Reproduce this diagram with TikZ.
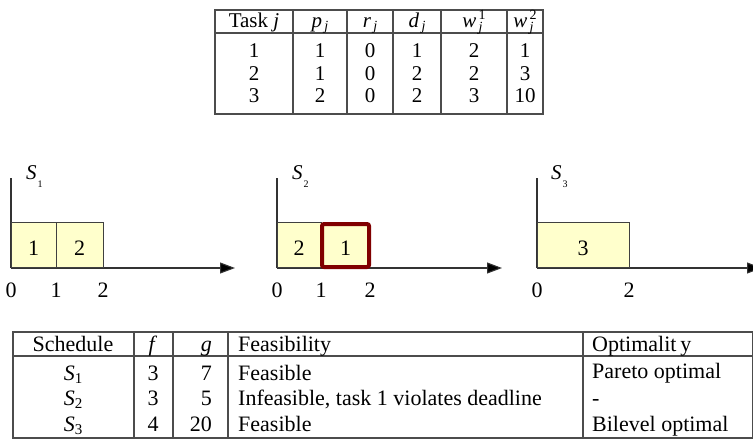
\documentclass[tikz,border=0pt]{standalone}
\usepackage{fontspec}
\setmainfont{Liberation Serif}
\usetikzlibrary{arrows.meta}
\definecolor{boxfill}{HTML}{FFFFCC}
\definecolor{maroonbox}{HTML}{800000}
\newcommand\smallfs{\fontsize{14}{14}\selectfont}
\newcommand\jsub[1]{\textit{#1}\raisebox{-0.4ex}{\smallfs\,\textit{j}}}
\newcommand\wsup[1]{\textit{w}\rlap{\raisebox{-0.5ex}{\smallfs\,\textit{j}}}\raisebox{0.8ex}{\smallfs\,#1}}
\newcommand\Slab[1]{\textit{S}\kern1pt\raisebox{-0.9ex}{\fontsize{10}{10}\selectfont #1}}
\newcommand\Stab[1]{\textit{S}\raisebox{-0.35ex}{\fontsize{15}{15}\selectfont #1}}
\begin{document}
\begin{tikzpicture}[x=1pt,y=-1pt,
  tline/.style={draw=black!70,line width=1.1pt},
  ttxt/.style={font=\fontsize{21}{24}\selectfont,inner sep=0pt,anchor=base},
  btxt/.style={font=\fontsize{22}{24}\selectfont,inner sep=0pt,anchor=base},
  ltxt/.style={btxt,anchor=base west},
  rtxt/.style={btxt,anchor=base east},
  axis/.style={draw=black!80,line width=1.1pt},
  axarrow/.style={axis,-{Triangle[length=15pt,width=11pt,fill=black]}},
  job/.style={draw=black!75,fill=boxfill,line width=1pt},
  badjob/.style={draw=maroonbox,fill=boxfill,line width=4pt,rounded corners=2pt},
  slabel/.style={font=\fontsize{21}{22}\selectfont,inner sep=0pt,anchor=base west},
  glabel/.style={font=\fontsize{22}{24}\selectfont,inner sep=0pt,anchor=base}]
\useasboundingbox (0,0) rectangle (753,440);

% ---------------- top table ----------------
\draw[tline] (215,10) rectangle (543,114);
\draw[tline] (215,33) -- (543,33);
\foreach \x in {293,347,393,441,507} \draw[tline] (\x,10) -- (\x,114);
\node[ttxt] (h1) at (254,27) {Task \textit{j}};
\node[ttxt] (h2) at (320,27) {\jsub{p}};
\node[ttxt] (h3) at (370,27) {\jsub{r}};
\node[ttxt] (h4) at (417,27) {\jsub{d}};
\node[ttxt] (h5) at (474,27) {\wsup{1}};
\node[ttxt] (h6) at (525,27) {\wsup{2}};
\node[ttxt] (a1) at (254,57) {1};
\node[ttxt] (a2) at (320,57) {1};
\node[ttxt] (a3) at (370,57) {0};
\node[ttxt] (a4) at (417,57) {1};
\node[ttxt] (a5) at (474,57) {2};
\node[ttxt] (a6) at (525,57) {1};
\node[ttxt] (b1) at (254,80) {2};
\node[ttxt] (b2) at (320,80) {1};
\node[ttxt] (b3) at (370,80) {0};
\node[ttxt] (b4) at (417,80) {2};
\node[ttxt] (b5) at (474,80) {2};
\node[ttxt] (b6) at (525,80) {3};
\node[ttxt] (c1) at (254,102) {3};
\node[ttxt] (c2) at (320,102) {2};
\node[ttxt] (c3) at (370,102) {0};
\node[ttxt] (c4) at (417,102) {2};
\node[ttxt] (c5) at (474,102) {3};
\node[ttxt] (c6) at (525,102) {10};

% ---------------- schedule S1 ----------------
\coordinate (o1) at (11,268);
\coordinate (t1) at (11,178);
\coordinate (e1) at (235,268);
\draw[axis] (o1) -- (t1);
\draw[axarrow] (o1) -- (e1);
\node[job,minimum width=45pt,minimum height=45pt,inner sep=0pt,anchor=south west] (j11) at (11,268) {};
\node[job,minimum width=47pt,minimum height=45pt,inner sep=0pt,anchor=south west] (j12) at (56,268) {};
\node[glabel] (l11) at (33.5,255) {1};
\node[glabel] (l12) at (79.5,255) {2};
\node[glabel] (x10) at (11,297) {0};
\node[glabel] (x11) at (56,297) {1};
\node[glabel] (x12) at (103,297) {2};
\node[slabel] (s1) at (26,179) {\Slab{1}};

% ---------------- schedule S2 ----------------
\coordinate (o2) at (277,268);
\coordinate (t2) at (277,178);
\coordinate (e2) at (502,268);
\draw[axis] (o2) -- (t2);
\draw[axarrow] (o2) -- (e2);
\node[job,minimum width=44pt,minimum height=45pt,inner sep=0pt,anchor=south west] (j21) at (277,268) {};
\node[badjob,minimum width=47pt,minimum height=43pt,inner sep=0pt,anchor=center] (j22) at (345.5,245.5) {};
\node[glabel] (l21) at (299,255) {2};
\node[glabel] (l22) at (345.5,255) {1};
\node[glabel] (x20) at (277,297) {0};
\node[glabel] (x21) at (321,297) {1};
\node[glabel] (x22) at (370,297) {2};
\node[slabel] (s2) at (292,179) {\Slab{2}};

% ---------------- schedule S3 ----------------
\coordinate (o3) at (537,268);
\coordinate (t3) at (537,178);
\coordinate (e3) at (762,268);
\draw[axis] (o3) -- (t3);
\draw[axarrow] (o3) -- (e3);
\node[job,minimum width=92pt,minimum height=45pt,inner sep=0pt,anchor=south west] (j31) at (537,268) {};
\node[glabel] (l31) at (583,255) {3};
\node[glabel] (x30) at (537,297) {0};
\node[glabel] (x32) at (629,297) {2};
\node[slabel] (s3) at (551,179) {\Slab{3}};

% ---------------- bottom table ----------------
\draw[tline] (13,332) rectangle (752.4,438);
\draw[tline] (13,356) -- (752.4,356);
\foreach \x in {134,173,228,583} \draw[tline] (\x,332) -- (\x,438);
\node[btxt] (H1) at (73,351) {Schedule};
\node[btxt] (H2) at (153,351) {\textit{f}};
\node[rtxt] (H3) at (212,351) {\textit{g}};
\node[ltxt] (H4) at (238,351) {Feasibility};
\node[ltxt] (H5) at (592,351) {Optimalit\hspace{0.18em}y};
\node[btxt] (R11) at (73,380) {\Stab{1}};
\node[btxt] (R12) at (153,380) {3};
\node[rtxt] (R13) at (212,380) {7};
\node[ltxt] (R14) at (238,380) {Feasible};
\node[ltxt] (R15) at (592,378) {Pareto optimal};
\node[btxt] (R21) at (73,405) {\Stab{2}};
\node[btxt] (R22) at (153,405) {3};
\node[rtxt] (R23) at (212,405) {5};
\node[ltxt] (R24) at (238,405) {Infeasible, task 1 violates deadline};
\node[ltxt] (R25) at (592,405) {-};
\node[btxt] (R31) at (73,431) {\Stab{3}};
\node[btxt] (R32) at (153,431) {4};
\node[rtxt] (R33) at (212,431) {20};
\node[ltxt] (R34) at (238,431) {Feasible};
\node[ltxt] (R35) at (592,431) {Bilevel optimal};
\end{tikzpicture}
\end{document}
